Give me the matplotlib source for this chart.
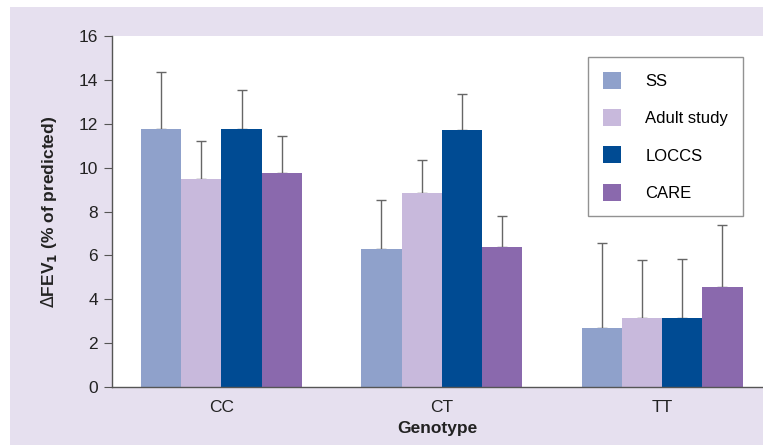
import numpy as np
import matplotlib.pyplot as plt
from matplotlib.patches import Rectangle, Patch

plt.rcParams['font.family'] = ['Liberation Sans', 'DejaVu Sans']

genotypes = ['CC', 'CT', 'TT']
studies = ['SS', 'Adult study', 'LOCCS', 'CARE']
colors = ['#8fa1cb', '#c8b9dc', '#004b93', '#8a69ad']

# mean change and upper error (top of whisker)
means = {
    'SS':          [11.75, 6.3, 2.7],
    'Adult study': [9.5, 8.85, 3.15],
    'LOCCS':       [11.75, 11.7, 3.15],
    'CARE':        [9.75, 6.4, 4.55],
}
err_top = {
    'SS':          [14.35, 8.52, 6.55],
    'Adult study': [11.2, 10.35, 5.8],
    'LOCCS':       [13.55, 13.35, 5.82],
    'CARE':        [11.45, 7.78, 7.4],
}

fig = plt.figure(figsize=(7.63, 4.45), dpi=100)
fig.patch.set_facecolor('white')
# lavender panel behind everything
fig.patches.append(Rectangle((10 / 763, 0), 1 - 10 / 763, 1 - 7 / 445,
                             transform=fig.transFigure, facecolor='#e6e0ef',
                             edgecolor='none', zorder=-10))

ax = fig.add_axes([112 / 763, 58 / 445, 1 - 112 / 763, (387 - 36) / 445])
ax.set_facecolor('white')

x = np.arange(len(genotypes))
w = 0.1825
for i, s in enumerate(studies):
    pos = x + (i - 1.5) * w
    vals = np.array(means[s])
    up = np.array(err_top[s]) - vals
    ax.bar(pos, vals, width=w, color=colors[i], zorder=2)
    ax.errorbar(pos, vals, yerr=[np.zeros_like(up), up], fmt='none',
                ecolor='#666666', elinewidth=1, capsize=3.5, capthick=1, zorder=1)

ax.set_xlim(-0.497, 2.458)
ax.set_ylim(0, 16)
ax.set_yticks(range(0, 17, 2))
ax.set_xticks(x)
ax.set_xticklabels(genotypes)
ax.tick_params(axis='y', direction='out', length=6, color='#555555',
               labelsize=12.5, labelcolor='#222222', pad=4)
ax.tick_params(axis='x', length=0, labelsize=12.5, labelcolor='#222222', pad=9)
for sp in ['top', 'right']:
    ax.spines[sp].set_visible(False)
for sp in ['left', 'bottom']:
    ax.spines[sp].set_color('#555555')
    ax.spines[sp].set_linewidth(1)

ax.set_xlabel('Genotype', fontsize=12.5, fontweight='bold', color='#222222', labelpad=5)
ax.set_ylabel(r'$\Delta$FEV$_\mathbf{1}$ (% of predicted)', fontsize=12.5,
              fontweight='bold', color='#222222', labelpad=14)

handles = [Patch(facecolor=c, edgecolor='none') for c in colors]
leg = ax.legend(handles, studies, loc='upper left', bbox_to_anchor=(0.731, 0.94),
                frameon=True, fancybox=False, edgecolor='#777777', fontsize=12,
                handlelength=1.1, handleheight=1.2, handletextpad=1.45,
                labelspacing=1.2, borderpad=0.9, borderaxespad=0)
leg.get_frame().set_linewidth(1)
leg.get_frame().set_facecolor('white')

fig.savefig('out.png', dpi=100)
